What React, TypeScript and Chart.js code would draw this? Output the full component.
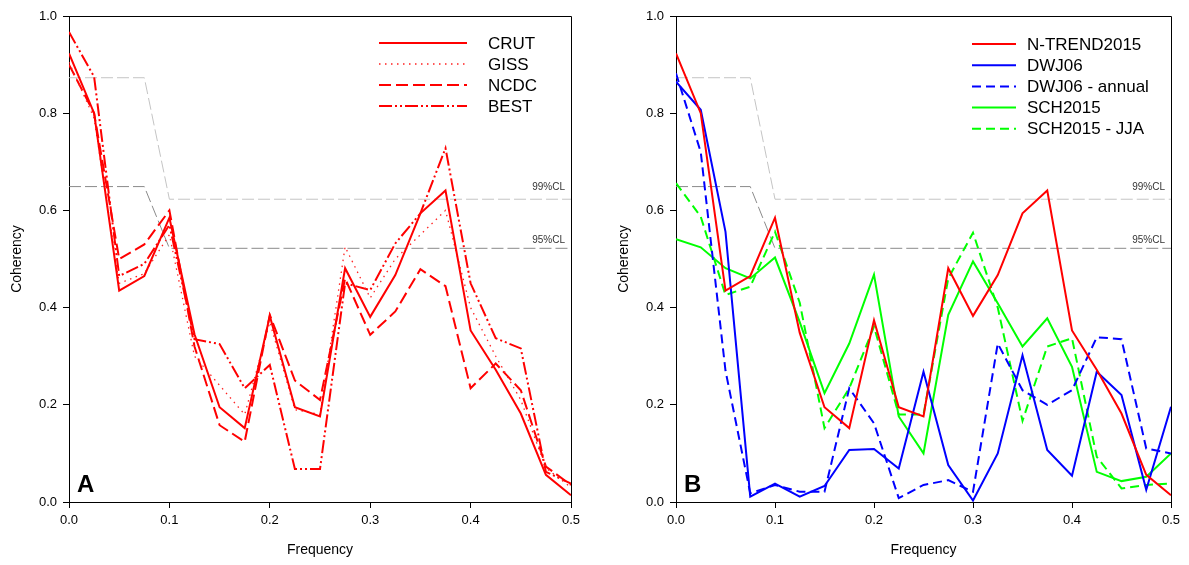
import React, { useEffect, useRef } from 'react';
import { Chart, registerables } from 'chart.js';

Chart.register(...registerables);

const FONT = '"Liberation Sans", Arial, sans-serif';

const frequency = [0, 0.025, 0.05, 0.075, 0.1, 0.125, 0.15, 0.175, 0.2, 0.225, 0.25, 0.275, 0.3, 0.325, 0.35, 0.375, 0.4, 0.425, 0.45, 0.475, 0.5];

// Panel A
const crut = [0.923, 0.8, 0.435, 0.465, 0.585, 0.345, 0.195, 0.152, 0.383, 0.195, 0.176, 0.481, 0.381, 0.467, 0.594, 0.641, 0.353, 0.272, 0.182, 0.056, 0.014];
const giss = [0.905, 0.79, 0.45, 0.47, 0.55, 0.3, 0.24, 0.18, 0.37, 0.19, 0.18, 0.525, 0.42, 0.5, 0.55, 0.6, 0.4, 0.3, 0.21, 0.07, 0.03];
const ncdc = [0.9, 0.8, 0.5, 0.53, 0.6, 0.32, 0.158, 0.124, 0.385, 0.25, 0.21, 0.46, 0.344, 0.392, 0.479, 0.444, 0.234, 0.285, 0.23, 0.073, 0.035];
const best = [0.967, 0.875, 0.465, 0.49, 0.57, 0.335, 0.325, 0.234, 0.282, 0.068, 0.068, 0.45, 0.436, 0.532, 0.594, 0.728, 0.45, 0.337, 0.316, 0.062, 0.038];

// Panel B
const ntrend2015 = [0.923, 0.8, 0.435, 0.465, 0.585, 0.348, 0.195, 0.152, 0.374, 0.195, 0.176, 0.481, 0.383, 0.467, 0.594, 0.641, 0.353, 0.272, 0.182, 0.056, 0.014];
const dwj06 = [0.865, 0.807, 0.556, 0.011, 0.038, 0.011, 0.033, 0.107, 0.109, 0.069, 0.268, 0.076, 0.003, 0.1, 0.302, 0.107, 0.054, 0.268, 0.22, 0.025, 0.196];
const dwj06Annual = [0.882, 0.72, 0.27, 0.018, 0.035, 0.021, 0.021, 0.234, 0.162, 0.008, 0.035, 0.045, 0.021, 0.326, 0.23, 0.2, 0.23, 0.339, 0.335, 0.11, 0.1];
const sch2015 = [0.541, 0.524, 0.481, 0.46, 0.503, 0.37, 0.224, 0.326, 0.468, 0.176, 0.1, 0.385, 0.495, 0.409, 0.32, 0.378, 0.278, 0.062, 0.043, 0.052, 0.1];
const sch2015JJA = [0.656, 0.587, 0.426, 0.443, 0.556, 0.41, 0.152, 0.234, 0.361, 0.18, 0.18, 0.46, 0.554, 0.4, 0.167, 0.32, 0.337, 0.093, 0.028, 0.035, 0.038];

// Confidence levels
const clFrequency = [0, 0.075, 0.1, 0.5];
const cl99 = [0.873, 0.873, 0.623, 0.623];
const cl95 = [0.649, 0.649, 0.522, 0.522];

const xTicks = [0, 0.1, 0.2, 0.3, 0.4, 0.5];
const yTicks = [0, 0.2, 0.4, 0.6, 0.8, 1.0];

type SeriesDef = { label: string; values: number[]; color: string; dash: number[]; width: number };

const seriesA: SeriesDef[] = [
  { label: 'CRUT', values: crut, color: '#ff0000', dash: [], width: 2 },
  { label: 'GISS', values: giss, color: '#ff2020', dash: [1.5, 4.5], width: 1.3 },
  { label: 'NCDC', values: ncdc, color: '#ff0000', dash: [12, 5], width: 2 },
  { label: 'BEST', values: best, color: '#ff0000', dash: [13, 3, 2, 3, 2, 3], width: 2 },
];

const seriesB: SeriesDef[] = [
  { label: 'N-TREND2015', values: ntrend2015, color: '#ff0000', dash: [], width: 2 },
  { label: 'DWJ06', values: dwj06, color: '#0000ff', dash: [], width: 2 },
  { label: 'DWJ06 - annual', values: dwj06Annual, color: '#0000ff', dash: [9, 5], width: 2 },
  { label: 'SCH2015', values: sch2015, color: '#00ff00', dash: [], width: 2 },
  { label: 'SCH2015 - JJA', values: sch2015JJA, color: '#00ff00', dash: [9, 5], width: 2 },
];

type PanelCfg = {
  series: SeriesDef[];
  letter: string;
  legendLineX0: number;
  legendLineX1: number;
  legendTextX: number;
  legendY0: number;
  legendDy: number;
  padRight: number;
};

function buildChart(canvas: HTMLCanvasElement, cfg: PanelCfg) {
  const datasets: any[] = cfg.series.map((s) => ({
    label: s.label,
    data: frequency.map((f, i) => ({ x: f, y: s.values[i] })),
    borderColor: s.color,
    borderWidth: s.width,
    borderDash: s.dash,
    pointRadius: 0,
    tension: 0,
    fill: false,
    isSeries: true,
  }));
  datasets.push({
    label: '99%CL',
    data: clFrequency.map((f, i) => ({ x: f, y: cl99[i] })),
    borderColor: '#c4c4c4',
    borderWidth: 1,
    borderDash: [12, 4],
    pointRadius: 0,
    tension: 0,
    fill: false,
  });
  datasets.push({
    label: '95%CL',
    data: clFrequency.map((f, i) => ({ x: f, y: cl95[i] })),
    borderColor: '#8a8a8a',
    borderWidth: 1,
    borderDash: [12, 4],
    pointRadius: 0,
    tension: 0,
    fill: false,
  });

  const overlay = {
    id: 'overlay',
    afterDraw(chart: any) {
      const { ctx, chartArea: ca, scales } = chart;
      ctx.save();
      // frame (top and right)
      ctx.strokeStyle = '#000';
      ctx.lineWidth = 1;
      ctx.setLineDash([]);
      ctx.beginPath();
      const l = Math.round(ca.left) + 0.5;
      const t = Math.round(ca.top) + 0.5;
      const r = Math.round(ca.right) + 0.5;
      const b = Math.round(ca.bottom) + 0.5;
      ctx.moveTo(l, t);
      ctx.lineTo(r, t);
      ctx.lineTo(r, b);
      ctx.stroke();

      // CL labels
      ctx.fillStyle = '#333';
      ctx.font = `10px ${FONT}`;
      ctx.textAlign = 'right';
      ctx.textBaseline = 'middle';
      ctx.fillText('99%CL', ca.right - 6, scales.y.getPixelForValue(cl99[cl99.length - 1]) - 12);
      ctx.fillText('95%CL', ca.right - 6, scales.y.getPixelForValue(cl95[cl95.length - 1]) - 8);

      // Panel letter
      ctx.fillStyle = '#000';
      ctx.font = `bold 24px ${FONT}`;
      ctx.textAlign = 'left';
      ctx.textBaseline = 'alphabetic';
      ctx.fillText(cfg.letter, ca.left + 8, ca.bottom - 10);

      // Legend
      ctx.font = `17px ${FONT}`;
      ctx.textBaseline = 'middle';
      chart.data.datasets.forEach((ds: any, i: number) => {
        if (!ds.isSeries) return;
        const y = ca.top + cfg.legendY0 + i * cfg.legendDy;
        ctx.strokeStyle = ds.borderColor;
        ctx.lineWidth = ds.borderWidth;
        ctx.setLineDash(ds.borderDash || []);
        ctx.beginPath();
        ctx.moveTo(ca.left + cfg.legendLineX0, y);
        ctx.lineTo(ca.left + cfg.legendLineX1, y);
        ctx.stroke();
        ctx.setLineDash([]);
        ctx.fillStyle = '#000';
        ctx.fillText(ds.label, ca.left + cfg.legendTextX, y + 1);
      });
      ctx.restore();
    },
  };

  const tickFont = { family: FONT, size: 13 };
  const titleFont = { family: FONT, size: 14 };

  return new Chart(canvas, {
    type: 'line',
    data: { datasets },
    plugins: [overlay],
    options: {
      animation: false,
      responsive: false,
      devicePixelRatio: 1,
      layout: { padding: { left: 0, right: cfg.padRight, top: 16, bottom: 0 } },
      plugins: { legend: { display: false }, tooltip: { enabled: false } },
      scales: {
        x: {
          type: 'linear',
          min: 0,
          max: 0.5,
          afterBuildTicks: (scale: any) => {
            scale.ticks = xTicks.map((v) => ({ value: v }));
          },
          ticks: {
            callback: (v: any) => Number(v).toFixed(1),
            color: '#000',
            font: tickFont,
            padding: 5,
            maxRotation: 0,
            autoSkip: false,
          },
          grid: { display: true, drawOnChartArea: false, drawTicks: true, tickLength: 6, color: '#000' },
          border: { display: true, color: '#000' },
          title: { display: true, text: 'Frequency', color: '#000', font: titleFont, padding: { top: 0, bottom: 6 } },
          afterFit: (scale: any) => {
            scale.height = 63;
          },
        },
        y: {
          type: 'linear',
          min: 0,
          max: 1,
          afterBuildTicks: (scale: any) => {
            scale.ticks = yTicks.map((v) => ({ value: v }));
          },
          ticks: {
            callback: (v: any) => Number(v).toFixed(1),
            color: '#000',
            font: tickFont,
            padding: 6,
            autoSkip: false,
          },
          grid: { display: true, drawOnChartArea: false, drawTicks: true, tickLength: 6, color: '#000' },
          border: { display: true, color: '#000' },
          title: { display: true, text: 'Coherency', color: '#000', font: titleFont, padding: { top: 9, bottom: 0 } },
          afterFit: (scale: any) => {
            scale.width = 69;
          },
        },
      },
    } as any,
  });
}

export default function App() {
  const refA = useRef<HTMLCanvasElement>(null);
  const refB = useRef<HTMLCanvasElement>(null);

  useEffect(() => {
    const a = buildChart(refA.current!, {
      series: seriesA,
      letter: 'A',
      legendLineX0: 310,
      legendLineX1: 398,
      legendTextX: 419,
      legendY0: 27,
      legendDy: 21,
      padRight: 29,
    });
    const b = buildChart(refB.current!, {
      series: seriesB,
      letter: 'B',
      legendLineX0: 296,
      legendLineX1: 340,
      legendTextX: 351,
      legendY0: 28,
      legendDy: 21.2,
      padRight: 18,
    });
    return () => {
      a.destroy();
      b.destroy();
    };
  }, []);

  return (
    <div style={{ position: 'absolute', left: 0, top: 0, width: 1189, height: 565, background: '#fff', overflow: 'hidden' }}>
      <canvas ref={refA} width={600} height={565} style={{ position: 'absolute', left: 0, top: 0, width: 600, height: 565 }} />
      <canvas ref={refB} width={582} height={565} style={{ position: 'absolute', left: 607, top: 0, width: 582, height: 565 }} />
    </div>
  );
}
